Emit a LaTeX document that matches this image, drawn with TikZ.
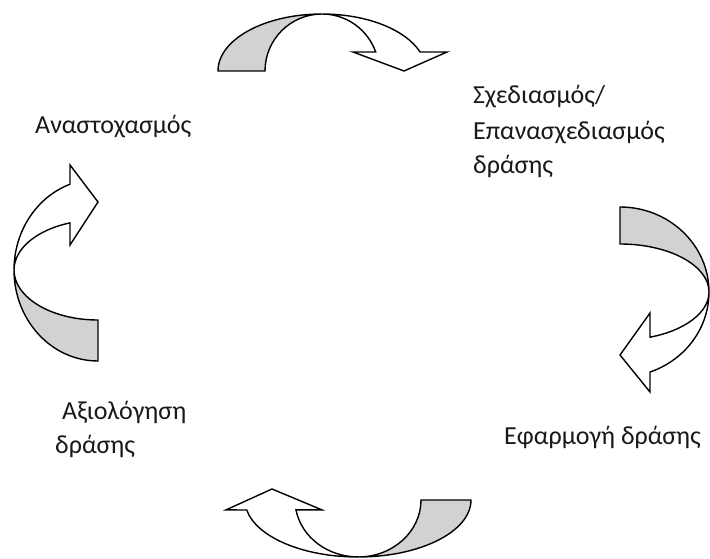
\documentclass[tikz,border=0pt]{standalone}
\usepackage{fontspec}
\setmainfont{Carlito}
\begin{document}
\begin{tikzpicture}[x=1pt,y=1pt,
  band/.style={draw=black,line width=1.4pt,line join=miter,fill=backgray},
  front/.style={draw=black,line width=1.4pt,line join=miter,fill=white},
  lbl/.style={anchor=west,inner sep=0pt,text=black!90,font=\fontsize{26}{30}\selectfont}]
\definecolor{backgray}{RGB}{210,210,210}
\useasboundingbox (0,0) rectangle (710,558);
% top arrow
\path[band] (218,487) arc[start angle=180,end angle=90,x radius=104pt,y radius=57pt]
  arc[start angle=90,end angle=180,x radius=57pt,y radius=57pt] -- cycle;
\path[front] (322,544) arc[start angle=90,end angle=19.47,x radius=104pt,y radius=57pt]
  -- (447,506) -- (404,487) -- (353,506) -- (375.7,506)
  arc[start angle=19.47,end angle=90,x radius=57pt,y radius=57pt] -- cycle;
% right arrow
\path[band] (620,351) arc[start angle=90,end angle=0,x radius=89pt,y radius=85pt]
  arc[start angle=0,end angle=90,x radius=89pt,y radius=48pt] -- cycle;
\path[front] (709,266) arc[start angle=0,end angle=-70.3,x radius=89pt,y radius=85pt]
  -- (650,166) -- (620,203) -- (650,245) -- (650,220.8)
  arc[start angle=-70.3,end angle=0,x radius=89pt,y radius=48pt] -- cycle;
% left arrow
\path[band] (98,197) arc[start angle=270,end angle=180,x radius=84pt,y radius=91pt]
  arc[start angle=180,end angle=270,x radius=84pt,y radius=50pt] -- cycle;
\path[front] (14,288) arc[start angle=180,end angle=109.47,x radius=84pt,y radius=91pt]
  -- (70,393) -- (98,356) -- (70,313) -- (70,335.1)
  arc[start angle=109.47,end angle=180,x radius=84pt,y radius=50pt] -- cycle;
% bottom arrow
\path[band] (471,58) arc[start angle=0,end angle=-90,x radius=113pt,y radius=57pt]
  arc[start angle=-90,end angle=0,x radius=63pt,y radius=57pt] -- cycle;
\path[front] (358,1) arc[start angle=-90,end angle=-169.9,x radius=113pt,y radius=57pt]
  -- (226,48.1) -- (272,69) -- (322,48.1) -- (296,48.1)
  arc[start angle=-169.9,end angle=-90,x radius=63pt,y radius=57pt] -- cycle;
% labels
\node[lbl] (reflect) at (35,431) {Αναστοχασμός};
\node[lbl] (plan1) at (473,461) {Σχεδιασμός/};
\node[lbl] (plan2) at (473,425) {Επανασχεδιασμός};
\node[lbl] (plan3) at (473,392) {δράσης};
\node[lbl] (eval1) at (62,146) {Αξιολόγηση};
\node[lbl] (eval2) at (55,112) {δράσης};
\node[lbl] (impl) at (504,121) {Εφαρμογή δράσης};
\end{tikzpicture}
\end{document}
